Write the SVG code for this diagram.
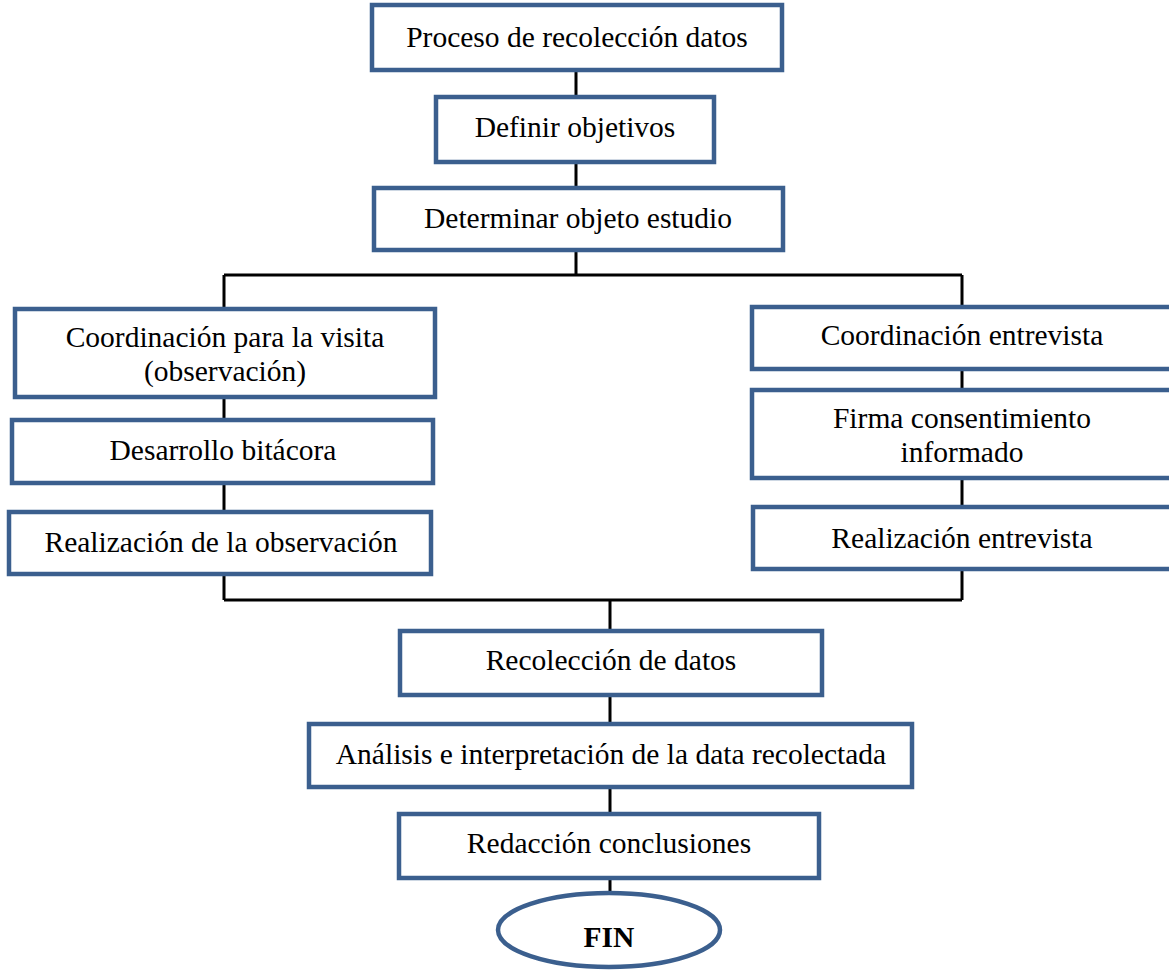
<svg xmlns="http://www.w3.org/2000/svg" width="1169" height="971" viewBox="0 0 1169 971">
<style>
.box{fill:#fff;stroke:#3b5f8e;stroke-width:4.5;}
.t{font-family:"Liberation Serif","Times New Roman",serif;font-size:29.5px;fill:#000;text-anchor:middle;}
.b{font-weight:bold;}
.c{fill:none;stroke:#000;stroke-width:3;}
</style>
<rect width="1169" height="971" fill="#fff"/>
<g id="connectors">
<path class="c" d="M576 70V97M576 162V188M576 250V275M224 275H962M224 275V309M962 275V307"/>
<path class="c" d="M224 397V420M224 483V512M224 574V600M962 369V390M962 478V507M962 569V600M224 600H962"/>
<path class="c" d="M610 600V631M610 695V724M610 787V814M610 878V893"/>
</g>
<g id="n1"><rect class="box" x="372" y="5" width="410" height="65"/><text class="t" x="577" y="47">Proceso de recolección datos</text></g>
<g id="n2"><rect class="box" x="436" y="97" width="278" height="65"/><text class="t" x="575" y="137">Definir objetivos</text></g>
<g id="n3"><rect class="box" x="374" y="188" width="409" height="62"/><text class="t" x="578" y="228">Determinar objeto estudio</text></g>
<g id="l1"><rect class="box" x="15" y="309" width="420" height="88"/><text class="t" x="225" y="347">Coordinación para la visita</text><text class="t" x="225" y="381">(observación)</text></g>
<g id="l2"><rect class="box" x="12" y="420" width="421" height="63"/><text class="t" x="223" y="460">Desarrollo bitácora</text></g>
<g id="l3"><rect class="box" x="9" y="512" width="422" height="62"/><text class="t" x="221" y="552">Realización de la observación</text></g>
<g id="r1"><rect class="box" x="752" y="307" width="430" height="62"/><text class="t" x="962" y="345">Coordinación entrevista</text></g>
<g id="r2"><rect class="box" x="752" y="390" width="430" height="88"/><text class="t" x="962" y="428">Firma consentimiento</text><text class="t" x="962" y="462">informado</text></g>
<g id="r3"><rect class="box" x="753" y="507" width="430" height="62"/><text class="t" x="962" y="548">Realización entrevista</text></g>
<g id="b1"><rect class="box" x="400" y="631" width="422" height="64"/><text class="t" x="611" y="670">Recolección de datos</text></g>
<g id="b2"><rect class="box" x="309" y="724" width="603" height="63"/><text class="t" x="611" y="764">Análisis e interpretación de la data recolectada</text></g>
<g id="b3"><rect class="box" x="399" y="814" width="420" height="64"/><text class="t" x="609" y="853">Redacción conclusiones</text></g>
<g id="fin"><ellipse class="box" cx="609" cy="930" rx="111" ry="37"/><text class="t b" x="609" y="947">FIN</text></g>
</svg>
